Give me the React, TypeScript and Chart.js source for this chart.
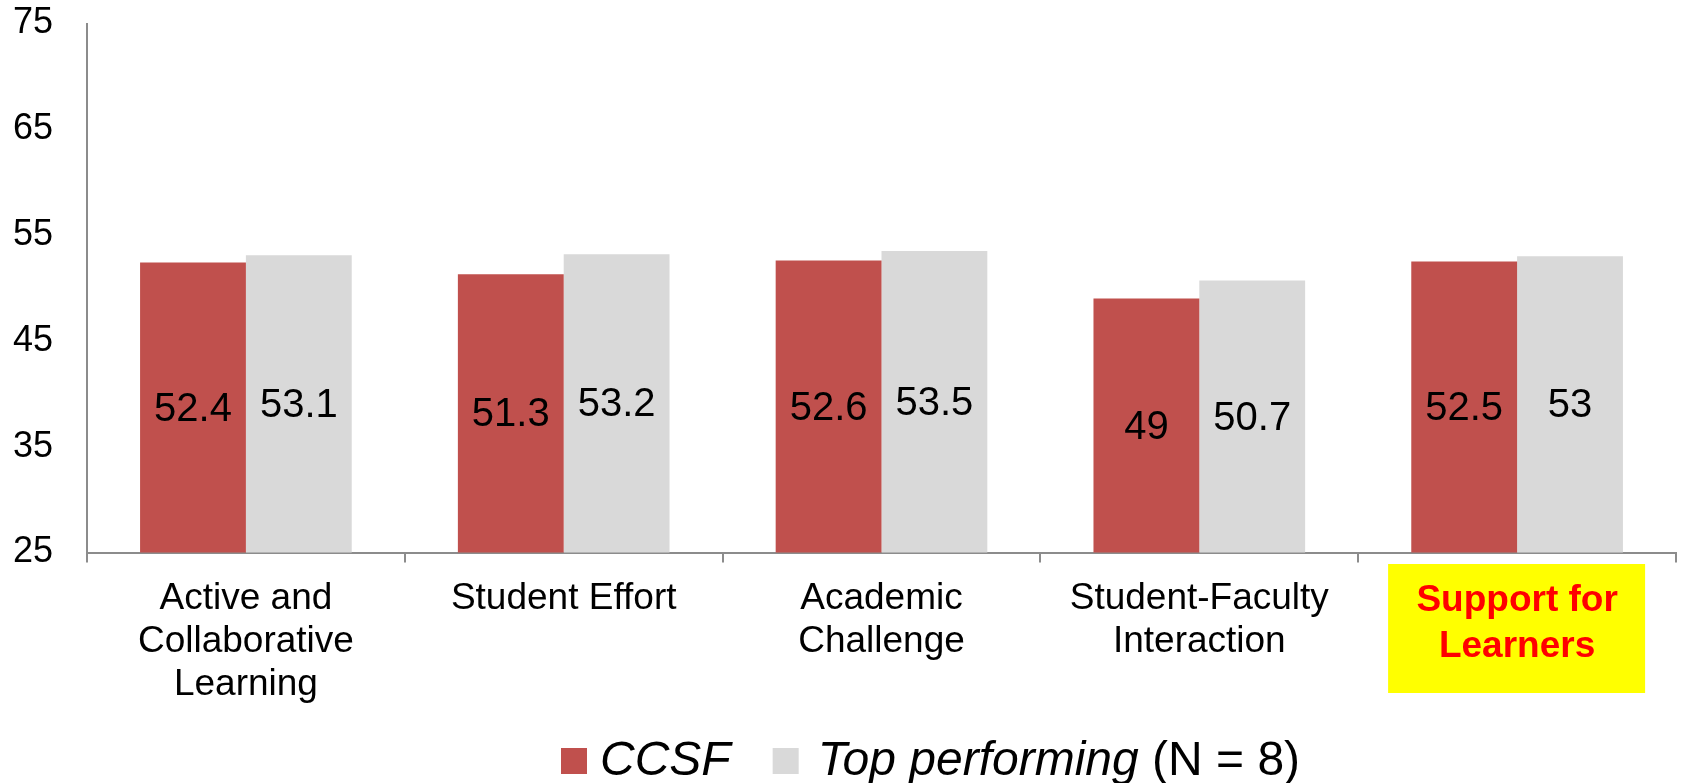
import React, { useEffect, useRef } from "react";
import { Chart, registerables } from "chart.js";

Chart.register(...registerables);

const categories: string[][] = [
  ["Active and", "Collaborative", "Learning"],
  ["Student Effort"],
  ["Academic", "Challenge"],
  ["Student-Faculty", "Interaction"],
  ["Support for", "Learners"],
];
const ccsfValues: number[] = [52.4, 51.3, 52.6, 49, 52.5];
const topValues: number[] = [53.1, 53.2, 53.5, 50.7, 53];
const yMin = 25;
const yMax = 75;
const yStep = 10;
const highlightIndex = 4;

const FONT = "'Liberation Sans', Arial, Helvetica, sans-serif";
const RED = "#C0504D";
const GRAY = "#D9D9D9";
const AXIS = "#8C8C8C";

const highlightBox = {
  id: "highlightBox",
  beforeDraw(chart: any) {
    const { ctx, chartArea } = chart;
    const x = chart.scales.x.getPixelForValue(highlightIndex);
    ctx.save();
    ctx.fillStyle = "#FFFF00";
    ctx.fillRect(x - 129, chartArea.bottom + 11.5, 257, 129);
    ctx.restore();
  },
};

const valueLabels = {
  id: "valueLabels",
  afterDatasetsDraw(chart: any) {
    const { ctx, chartArea } = chart;
    ctx.save();
    ctx.font = `40px ${FONT}`;
    ctx.fillStyle = "#000";
    ctx.textAlign = "center";
    ctx.textBaseline = "middle";
    chart.data.datasets.forEach((ds: any, di: number) => {
      const meta = chart.getDatasetMeta(di);
      meta.data.forEach((bar: any, i: number) => {
        const v = ds.data[i];
        const base = Math.min(bar.base, chartArea.bottom);
        ctx.fillText(String(v), bar.x, (bar.y + base) / 2 + 2);
      });
    });
    ctx.restore();
  },
};

const customLegend = {
  id: "customLegend",
  afterDraw(chart: any) {
    const { ctx } = chart;
    ctx.save();
    const baseY = 775;
    let x = 561;
    const sq = 26;
    const sqTop = 748;
    ctx.textBaseline = "alphabetic";
    ctx.textAlign = "left";
    ctx.fillStyle = RED;
    ctx.fillRect(x, sqTop, sq, sq);
    x += sq + 13;
    ctx.fillStyle = "#000";
    ctx.font = `italic 48px ${FONT}`;
    ctx.fillText("CCSF", x, baseY);
    x += ctx.measureText("CCSF").width + 42;
    ctx.fillStyle = GRAY;
    ctx.fillRect(x, sqTop, sq, sq);
    x += sq + 19;
    ctx.fillStyle = "#000";
    ctx.font = `italic 48px ${FONT}`;
    ctx.fillText("Top performing", x, baseY);
    x += ctx.measureText("Top performing ").width;
    ctx.font = `48px ${FONT}`;
    ctx.fillText("(N = 8)", x, baseY);
    ctx.restore();
  },
};

export default function App() {
  const canvasRef = useRef<HTMLCanvasElement | null>(null);

  useEffect(() => {
    if (!canvasRef.current) return;
    const chart = new Chart(canvasRef.current, {
      type: "bar",
      data: {
        labels: categories,
        datasets: [
          {
            label: "CCSF",
            data: ccsfValues,
            backgroundColor: RED,
            borderWidth: 0,
            categoryPercentage: 0.666,
            barPercentage: 1,
          },
          {
            label: "Top performing (N = 8)",
            data: topValues,
            backgroundColor: GRAY,
            borderWidth: 0,
            categoryPercentage: 0.666,
            barPercentage: 1,
          },
        ],
      },
      options: {
        animation: false,
        responsive: true,
        maintainAspectRatio: false,
        events: [],
        layout: { padding: { top: 23.5, right: 7, left: 0, bottom: 0 } },
        plugins: {
          legend: { display: false },
          tooltip: { enabled: false },
          title: { display: false },
        },
        scales: {
          x: {
            grid: {
              display: true,
              offset: true,
              drawOnChartArea: false,
              drawTicks: true,
              tickLength: 10,
              color: AXIS,
              lineWidth: 2,
            },
            border: { display: true, color: AXIS, width: 2 },
            ticks: {
              padding: 15,
              maxRotation: 0,
              autoSkip: false,
              color: (c: any) => (c.index === highlightIndex ? "#FF0000" : "#000"),
              font: (c: any) =>
                c.index === highlightIndex
                  ? { family: FONT, size: 37, weight: "bold", lineHeight: 1.25 }
                  : { family: FONT, size: 37, lineHeight: 1.16 },
            },
            afterFit: (scale: any) => {
              scale.height = 230.5;
            },
          },
          y: {
            min: yMin,
            max: yMax,
            grid: { display: false, drawTicks: false },
            border: { display: true, color: AXIS, width: 2 },
            ticks: {
              stepSize: yStep,
              padding: 34,
              color: "#000",
              font: { family: FONT, size: 36 },
            },
            afterFit: (scale: any) => {
              scale.width = 87;
              scale.paddingTop = 0;
              scale.paddingBottom = 0;
            },
          },
        },
      },
      plugins: [highlightBox, valueLabels, customLegend],
    });
    return () => chart.destroy();
  }, []);

  return (
    <div style={{ position: "fixed", left: 0, top: 0, width: 1683, height: 783 }}>
      <canvas ref={canvasRef} />
    </div>
  );
}
